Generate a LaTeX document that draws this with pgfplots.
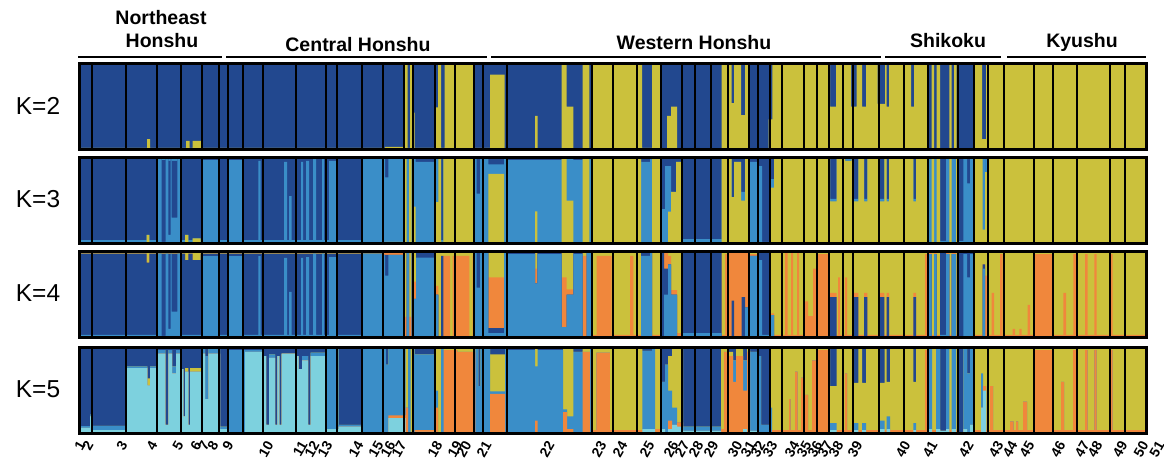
\documentclass[border=0pt]{standalone}
\usepackage{fontspec}
\setmainfont{Liberation Sans}
\usepackage{pgfplots}
\pgfplotsset{compat=1.18}
\usepackage{pgfplotstable}
\definecolor{cDB}{HTML}{22488F}
\definecolor{cLB}{HTML}{3A8EC8}
\definecolor{cY}{HTML}{CBC13C}
\definecolor{cO}{HTML}{F0873C}
\definecolor{cC}{HTML}{7DD1DE}

% K=2 : Y (bottom), B (top)
\pgfplotstableread{
x Y B
80 0.02 0.98
147 0.12 0.88
150 0.02 0.98
186 0.10 0.90
189.5 0.02 0.98
192.5 0.10 0.90
201 0.02 0.98
385 0.03 0.97
405 1 0
407.5 0.02 0.98
410 1 0
412.5 0.43 0.57
414.5 0.02 0.98
435.5 0.49 0.51
438 1 0
441 0.02 0.98
444.7 1 0
474 0.02 0.98
490 0.87 0.13
504.5 0 1
535 0.39 0.61
537.7 0 1
561.7 1 0
566.7 0.5 0.5
573.3 0 1
582.7 1 0
589.3 0 1
592.3 1 0
642 0.02 0.98
652 1 0
661.3 0 1
667 0.39 0.61
671 0.5 0.5
677 0 1
721.7 1 0
731.7 0.54 0.46
734 1 0
741 0.4 0.6
745 1 0
749.5 0 1
768.6 0.35 0.65
772.4 1 0
830 0.5 0.5
836 1 0
851 0.5 0.5
856.6 1 0
862 0.5 0.5
866 1 0
877.6 0.53 0.47
885 1 0
886.7 0.5 0.5
889 1 0
911 0.5 0.5
914 1 0
928.3 0 1
931.7 1 0
934 0 1
936.7 1 0
940 0 1
949.3 1 0
951.7 0 1
954 1 0
956.7 0 1
974.3 1 0
982 0.12 0.88
986 1 0
1146 1 0
}\ktwo

% K=3 : Y, L1, D, L2 (bottom to top)
\pgfplotstableread{
x Y L D T
80 0.01 0.03 0.96 0
146.7 0.1 0 0.9 0
149.3 0.01 0.03 0.96 0
156.7 0.01 0.99 0 0
161.7 0 0.02 0.95 0.03
165.7 0.01 0.99 0 0
168.3 0 0.1 0.86 0.04
170.7 0.01 0.99 0 0
171.7 0 0.3 0.66 0.04
177.3 0.01 0.99 0 0
180.7 0.01 0.03 0.96 0
185 0.1 0 0.9 0
188.3 0.01 0.03 0.96 0
192.7 0.06 0 0.94 0
200.7 0.01 0.03 0.96 0
201.7 0.01 0.96 0.03 0
219.3 0.01 0.03 0.96 0
228.3 0.01 0.96 0.03 0
243.3 0.01 0.03 0.96 0
258.3 0.01 0.95 0.04 0
260.7 0.01 0.03 0.96 0
284 0.01 0.94 0.05 0
287 0.01 0.03 0.96 0
289 0.01 0.54 0.45 0
291.5 0.01 0.03 0.96 0
301 0.01 0.94 0.05 0
303 0.01 0.03 0.96 0
306 0.01 0.95 0.04 0
309 0.01 0.03 0.96 0
313 0.01 0.99 0 0
316 0.01 0.03 0.96 0
322 0.01 0.99 0 0
324 0.01 0.03 0.96 0
329 0.01 0.95 0.04 0
337.3 0.01 0.03 0.96 0
361.7 0.01 0.99 0 0
385 0.02 0.75 0.23 0
388.3 0.02 0.98 0 0
404.3 1 0 0 0
406.7 0 1 0 0
409 1 0 0 0
411.7 0 1 0 0
413.3 0.43 0.57 0 0
415.7 0.01 0.94 0.05 0
435 0.48 0.52 0 0
438.3 1 0 0 0
441 0.02 0.02 0.96 0
443.3 1 0 0 0
474.3 0 1 0 0
476.7 0 0.58 0.42 0
480 0 1 0 0
488.3 0.81 0.11 0.08 0
504 0 1 0 0
507.3 0 0.97 0.03 0
535 0.375 0.595 0.03 0
537.3 0 0.97 0.03 0
561.7 1 0 0 0
566.7 0.5 0.5 0 0
573.3 0 0.97 0.03 0
582.7 1 0 0 0
589.3 0 1 0 0
592.3 1 0 0 0
641 0 0.95 0.05 0
650 0 1 0 0
652 1 0 0 0
661.3 0 0.4 0.6 0
665 0 0.9 0.1 0
668 0.37 0.53 0.1 0
671 0.6 0 0.4 0
676 0.95 0 0.05 0
682.3 0 0.05 0.95 0
721.7 1 0 0 0
731.7 0.54 0 0.46 0
734 0.95 0 0.05 0
741 0.5 0.1 0.4 0
745 1 0 0 0
749 0 0.95 0.05 0
758.3 0 0.9 0.1 0
762 0 0.02 0.98 0
770 0.65 0.1 0.25 0
774 1 0 0 0
830 0.49 0.03 0.48 0
836.7 1 0 0 0
845 0.96 0 0 0.04
851.7 1 0 0 0
852.7 0.49 0.03 0.48 0
858.3 1 0 0 0
864 0.49 0.03 0.48 0
867.3 1 0 0 0
879.3 0.49 0.03 0.48 0
884.3 1 0 0 0
886.7 0.49 0.03 0.48 0
889 1 0 0 0
913.3 0.49 0.03 0.48 0
916 1 0 0 0
928.3 0 1 0 0
931.7 1 0 0 0
934 0 1 0 0
936.7 1 0 0 0
940 0 0.03 0.97 0
946 0 1 0 0
949.3 1 0 0 0
951.7 0 1 0 0
956 1 0 0 0
958.3 0 0.03 0.97 0
963.3 0 1 0 0
967 0 0.7 0.3 0
970 0 1 0 0
974.3 1 0 0 0
982.7 0.16 0.84 0 0
985 0.83 0 0 0.17
988.3 0.98 0 0 0.02
1146 0.98 0 0 0.02
}\kthree

% K=4 : L, D, O, Y (bottom to top)
\pgfplotstableread{
x L D O Y
80 0.03 0.945 0 0.025
146.7 0.03 0.84 0 0.13
149.3 0.03 0.945 0 0.025
156.7 0.975 0 0 0.025
161.7 0.02 0.955 0 0.025
165.7 0.975 0 0 0.025
168.3 0.1 0.875 0 0.025
170.7 0.975 0 0 0.025
171.7 0.3 0.675 0 0.025
177.3 0.975 0 0 0.025
180.7 0.03 0.945 0 0.025
185 0.03 0.87 0 0.1
188.3 0.03 0.945 0 0.025
192.7 0.03 0.87 0 0.1
200.7 0.03 0.945 0 0.025
201.7 0.945 0.03 0 0.025
219.3 0.03 0.945 0 0.025
228.3 0.945 0.03 0 0.025
243.3 0.03 0.945 0 0.025
258.3 0.945 0.03 0 0.025
260.7 0.03 0.945 0 0.025
284 0.925 0.05 0 0.025
287 0.03 0.945 0 0.025
289 0.53 0.445 0 0.025
291.5 0.03 0.945 0 0.025
301 0.925 0.05 0 0.025
303 0.03 0.945 0 0.025
306 0.935 0.04 0 0.025
309 0.03 0.945 0 0.025
313 0.975 0 0 0.025
316 0.03 0.945 0 0.025
322 0.975 0 0 0.025
324 0.03 0.945 0 0.025
329 0.935 0.04 0 0.025
337.3 0.03 0.945 0 0.025
361.7 0.975 0 0 0.025
383.3 0.96 0 0.04 0
385 0.72 0.24 0.04 0
388.3 0.96 0 0.04 0
404.3 0 0 0.24 0.76
406.7 1 0 0 0
409 0 0 0.24 0.76
411.7 1 0 0 0
413.3 0.45 0 0.2 0.35
416 0.93 0.05 0 0.02
435 0.5 0 0.1 0.4
438.3 0 0 0.02 0.98
441 0 0.95 0 0.05
443.3 0 0 0.95 0.05
450 0 0 0.02 0.98
452.5 0 0 0.95 0.05
469.3 0 0 0.02 0.98
472.7 0 0 0.95 0.05
474.3 1 0 0 0
476.7 0.58 0.42 0 0
480 1 0 0 0
488.3 0.05 0.06 0.59 0.3
504 1 0 0 0
507.3 0.97 0.03 0 0
535 0.63 0 0.17 0.2
537.3 0.97 0.03 0 0
561.7 0.12 0 0.58 0.3
566.7 0.5 0 0.06 0.44
573.3 0.97 0.03 0 0
582.7 0 0 0.95 0.05
586.7 1 0 0 0
592.3 0 0 0.03 0.97
596.7 0 0 0.95 0.05
611.7 0 0 0.03 0.97
630 0 0 0.95 0.05
633.3 0 0 0.03 0.97
641 0.95 0.05 0 0
650 1 0 0 0
652 0 0 0.03 0.97
661.3 0 1 0 0
664 0.5 0.3 0.2 0
668 0.85 0 0.1 0.05
671 0.5 0 0.05 0.45
677 0 0 0.05 0.95
682.3 0.05 0.95 0 0
721.7 0 0 0.03 0.97
725 0 0 0.97 0.03
728.3 0 0 0.98 0.02
731.7 0 0.43 0.55 0.02
734 0 0 0.98 0.02
741.7 0 0.47 0.51 0.02
745 0.35 0 0.63 0.02
749 0.95 0 0.02 0.03
758.3 0.9 0.1 0 0
762 0.03 0.97 0 0
770 0.26 0 0.02 0.72
774 0 0 0.03 0.97
785 0 0 1 0
787.5 0 0 0.03 0.97
791 0 0 1 0
793 0 0 0.03 0.97
797 0 0 1 0
799 0 0 0.03 0.97
804.3 0 0 0.42 0.58
808 0 0 0.25 0.75
813 0 0 0.8 0.2
816.7 0 0 0.97 0.03
829 0 0 0.03 0.97
830 0 0.47 0.05 0.48
836.7 0 0 0.03 0.97
838 0 0 0.7 0.3
840 0 0 0.03 0.97
845 0 0 0.7 0.3
847 0 0 0.03 0.97
852.7 0 0.47 0.05 0.48
858.3 0 0 0.03 0.97
864 0 0.47 0.05 0.48
867.3 0 0 0.03 0.97
879.3 0 0.47 0.05 0.48
884.3 0 0 0.03 0.97
886.7 0 0.47 0.05 0.48
889 0 0 0.03 0.97
913.3 0 0.47 0.05 0.48
916 0 0 0.03 0.97
925 0 0 0.97 0.03
927.3 0 0 0.03 0.97
928.3 0.97 0 0.03 0
931.7 0 0 0.03 0.97
934 0.97 0 0.03 0
936.7 0 0 0.03 0.97
940 0.03 0.97 0 0
946 0.97 0 0.03 0
949.3 0 0 0.03 0.97
951.7 0.97 0 0.03 0
956 0 0 0.03 0.97
958.3 0 1 0 0
963.3 0.97 0.03 0 0
967 0.7 0.3 0 0
970 0.97 0.03 0 0
974.3 0 0 0.03 0.97
982.7 0.8 0.05 0 0.15
985 0 0 0.72 0.28
988.3 0 0 0.03 0.97
991.7 0 0 0.52 0.48
994 0 0 0.03 0.97
1000 0 0 0.97 0.03
1002.7 0 0 0.03 0.97
1012.7 0 0 0.1 0.9
1015 0 0 0.03 0.97
1019.3 0 0 0.1 0.9
1021.7 0 0 0.03 0.97
1027.7 0 0 0.38 0.62
1030 0 0 0.03 0.97
1034.3 0 0 0.97 0.03
1052.7 0 0 0.03 0.97
1063.3 0 0 0.52 0.48
1066 0 0 0.03 0.97
1073.3 0 0 0.97 0.03
1076 0 0 0.03 0.97
1085 0 0 0.97 0.03
1087.7 0 0 0.03 0.97
1094.3 0 0 0.97 0.03
1096.7 0 0 0.03 0.97
1110 0 0 0.97 0.03
1112.7 0 0 0.03 0.97
1146 0 0 0.03 0.97
}\kfour

% K=5 : C, O, L, Y, D (bottom to top)
\pgfplotstableread{
x C O L Y D
80 0.065 0 0.02 0 0.915
90 0.2 0 0.02 0 0.78
92.3 0.04 0 0.05 0 0.91
126.3 0.76 0 0.02 0 0.22
147.3 0.56 0 0 0.08 0.36
150 0.76 0 0.02 0 0.22
157 0.93 0 0.04 0 0.03
165.3 0.1 0 0 0 0.9
168.4 0.93 0 0.04 0 0.03
172 0.7 0 0.08 0 0.22
176 0.93 0 0.04 0 0.03
180.6 0.75 0 0 0 0.25
183.3 0.2 0 0 0 0.8
185 0.72 0 0 0.04 0.24
188.3 0.1 0 0 0 0.9
190 0.72 0 0 0.04 0.24
202 0.93 0 0.07 0 0
205 0.4 0 0.5 0 0.1
208.3 0.93 0 0.05 0 0.02
220 0.05 0 0.03 0 0.92
229 0 0 0.97 0 0.03
245 0.95 0 0.02 0 0.03
263.3 0.9 0 0 0 0.1
266 0.1 0 0 0 0.9
269 0.88 0 0.04 0 0.08
275 0.1 0 0 0 0.9
277.3 0.9 0 0 0 0.1
279.3 0.1 0 0 0 0.9
281.7 0.93 0 0 0 0.07
296.6 0.9 0 0 0 0.1
298.5 0.75 0 0 0 0.25
302 0.85 0 0.05 0 0.1
308 0.1 0 0 0 0.9
310.7 0.9 0 0.04 0 0.06
326 0.05 0 0.95 0 0
338.7 0.08 0 0.02 0 0.9
362.8 0 0 1 0 0
385.8 0 0 0.8 0 0.2
388.4 0.18 0.03 0.79 0 0
405.7 0 0.3 0 0.7 0
408 0 0 1 0 0
410.5 0 0.02 0 0.98 0
412.5 0 0 1 0 0
414.5 0.02 0.02 0.88 0 0.08
435.5 0 0.3 0.2 0.5 0
438 0 0 0 1 0
441 0 0 1 0 0
443.5 0 0.97 0 0.03 0
457.3 0 0.95 0 0.05 0
475.3 0 0 1 0 0
478.4 0 0 0.55 0 0.45
480.3 0 0 1 0 0
490 0 0.46 0.03 0.43 0.08
505 0 0 1 0 0
507.8 0 0 0.97 0 0.03
535 0 0.15 0.63 0.22 0
537.7 0 0 0.97 0 0.03
563 0 0.25 0.03 0.72 0
567 0 0.05 0.15 0.8 0
573.4 0 0 0.95 0 0.05
582.7 0 0.95 0 0.05 0
590 0 0 1 0 0
592.3 0 0.04 0 0.96 0
596.4 0 0.94 0 0.06 0
609.8 0 0.04 0 0.96 0
642.3 0.05 0 0.91 0 0.04
652 0.05 0 0.95 0 0
655 0 0.05 0 0.95 0
661.4 0.05 0 0.55 0 0.4
665 0 0 0.8 0 0.2
668 0.05 0.1 0.35 0.4 0.1
672 0.1 0 0.2 0.7 0
677 0.08 0.05 0 0.87 0
683.2 0.03 0 0.05 0 0.92
721 0 0.05 0 0.95 0
724 0 0.95 0 0.05 0
728.4 0 0.9 0 0.05 0.05
733 0 0.6 0.25 0 0.15
736 0 0.9 0 0.1 0
743 0.05 0.45 0.35 0 0.15
747 0 0.95 0 0.05 0
750.2 0.03 0 0.92 0 0.05
757.9 0 0 0.9 0 0.1
761 0 0 0.1 0 0.9
769.7 0 0 0.3 0.7 0
772 0 0.04 0 0.96 0
789 0 0.4 0 0.6 0
790.5 0 0.04 0 0.96 0
795 0 0.72 0 0.28 0
797.5 0 0.04 0 0.96 0
801 0 0.65 0 0.35 0
803.8 0 0.45 0 0.55 0
808 0 0.04 0 0.96 0
812 0 0.85 0 0.15 0
817 0 0.97 0 0.03 0
829 0 0.04 0 0.96 0
830 0.04 0 0.08 0.43 0.45
836.7 0 0.04 0 0.96 0
845 0 0.7 0 0.3 0
847 0 0.04 0 0.96 0
852.7 0.04 0 0.08 0.47 0.41
858.3 0 0.04 0 0.96 0
862 0.04 0 0.08 0.47 0.41
866 0 0.04 0 0.96 0
879.5 0.05 0 0.1 0.44 0.41
884.5 0 0.04 0 0.96 0
886.7 0.05 0 0.15 0.4 0.4
890 0 0.04 0 0.96 0
913.3 0.04 0 0.08 0.48 0.4
916 0 0.04 0 0.96 0
925 0 0.97 0 0.03 0
927.3 0 0.04 0 0.96 0
928.3 0.05 0 0.95 0 0
932 0 0.04 0 0.96 0
936 0.05 0 0.95 0 0
940 0.03 0 0 0 0.97
946 0.05 0 0.95 0 0
949.3 0 0.04 0 0.96 0
951.7 0.05 0 0.95 0 0
956 0 0.04 0 0.96 0
958.3 0 0 0 0 1
963.3 0.05 0 0.95 0 0
967 0 0 0.7 0 0.3
970 0.1 0 0.9 0 0
974.3 0 0.04 0 0.96 0
981 0.3 0 0.4 0.3 0
983 0.5 0.05 0 0.45 0
986 0 0.04 0 0.96 0
990 0 0.55 0 0.45 0
993 0 0.04 0 0.96 0
1010 0 0.14 0 0.86 0
1013.5 0 0.04 0 0.96 0
1016 0 0.14 0 0.86 0
1018 0 0.04 0 0.96 0
1023 0 0.37 0 0.63 0
1027 0 0.04 0 0.96 0
1034.3 0 0.97 0 0.03 0
1052.7 0 0.04 0 0.96 0
1061 0 0.6 0 0.4 0
1064 0 0.04 0 0.96 0
1073 0 0.97 0 0.03 0
1076 0 0.04 0 0.96 0
1085 0 0.97 0 0.03 0
1087.7 0 0.04 0 0.96 0
1094.3 0 0.97 0 0.03 0
1096.7 0 0.04 0 0.96 0
1110 0 0.97 0 0.03 0
1112.7 0 0.04 0 0.96 0
1146 0 0.04 0 0.96 0
}\kfive

\pgfplotsset{
  panel/.style={
    scale only axis, width=1067pt, height=86pt,
    xmin=79.5, xmax=1146.5, ymin=0, ymax=1,
    axis on top,
    axis line style={line width=3.5pt, black},
    xtick=\empty, ytick=\empty,
    extra x ticks={92,126,157,181,202,219,228,243,263,296,326,337,362,383,404,413,435,455,474,483,507,592,613,637,661,682,695,711,728,749,758,770,782,804,817,829,843,853,879,904,928,958,974,988,1004,1034,1053,1077,1110,1125},
    extra x tick labels={},
    extra x tick style={grid=major, major grid style={black, line width=1.1pt}, major tick length=0pt},
    anchor=north west,
  },
  area/.style={draw=none, fill=#1, const plot},
}
\newcommand{\pl}[1]{\fontsize{14}{16}\selectfont\textbf{#1}}

\begin{document}
\begin{tikzpicture}
\useasboundingbox (0,0) rectangle (1164pt,459pt);

% region headings
\begin{scope}[font=\bfseries\fontsize{19.5}{22}\selectfont]
\node[anchor=base, inner sep=0pt] at (161pt,434pt) {Northeast};
\node[anchor=base, inner sep=0pt] at (162pt,411pt) {Honshu};
\node[anchor=base, inner sep=0pt] at (358pt,407pt) {Central Honshu};
\node[anchor=base, inner sep=0pt] at (694pt,409pt) {Western Honshu};
\node[anchor=base, inner sep=0pt] at (948pt,411pt) {Shikoku};
\node[anchor=base, inner sep=0pt] at (1082pt,411pt) {Kyushu};
\end{scope}
\begin{scope}[line width=2pt]
\draw (78pt,402pt) -- (222pt,402pt);
\draw (226pt,402pt) -- (487pt,402pt);
\draw (491pt,402pt) -- (881pt,402pt);
\draw (885pt,402pt) -- (1001pt,402pt);
\draw (1007pt,402pt) -- (1146pt,402pt);
\end{scope}

% K labels
\begin{scope}[font=\fontsize{24.5}{26}\selectfont]
\node at (38pt,353.5pt) {K=2};
\node at (38pt,259.5pt) {K=3};
\node at (38pt,165.5pt) {K=4};
\node at (38pt,69.5pt) {K=5};
\end{scope}

% K=2
\begin{axis}[panel, at={(79.5pt,395.5pt)}]
\addplot[area=cDB] table[x=x, y expr=\thisrow{Y}+\thisrow{B}] {\ktwo} \closedcycle;
\addplot[area=cY] table[x=x, y=Y] {\ktwo} \closedcycle;
\end{axis}

% K=3
\begin{axis}[panel, at={(79.5pt,301.5pt)}]
\addplot[area=cLB] table[x=x, y expr=\thisrow{Y}+\thisrow{L}+\thisrow{D}+\thisrow{T}] {\kthree} \closedcycle;
\addplot[area=cDB] table[x=x, y expr=\thisrow{Y}+\thisrow{L}+\thisrow{D}] {\kthree} \closedcycle;
\addplot[area=cLB] table[x=x, y expr=\thisrow{Y}+\thisrow{L}] {\kthree} \closedcycle;
\addplot[area=cY] table[x=x, y=Y] {\kthree} \closedcycle;
\end{axis}

% K=4
\begin{axis}[panel, at={(79.5pt,207.5pt)}]
\addplot[area=cY] table[x=x, y expr=\thisrow{L}+\thisrow{D}+\thisrow{O}+\thisrow{Y}] {\kfour} \closedcycle;
\addplot[area=cO] table[x=x, y expr=\thisrow{L}+\thisrow{D}+\thisrow{O}] {\kfour} \closedcycle;
\addplot[area=cDB] table[x=x, y expr=\thisrow{L}+\thisrow{D}] {\kfour} \closedcycle;
\addplot[area=cLB] table[x=x, y=L] {\kfour} \closedcycle;
\end{axis}

% K=5
\begin{axis}[panel, at={(79.5pt,111.5pt)}]
\addplot[area=cDB] table[x=x, y expr=\thisrow{C}+\thisrow{O}+\thisrow{L}+\thisrow{Y}+\thisrow{D}] {\kfive} \closedcycle;
\addplot[area=cY] table[x=x, y expr=\thisrow{C}+\thisrow{O}+\thisrow{L}+\thisrow{Y}] {\kfive} \closedcycle;
\addplot[area=cLB] table[x=x, y expr=\thisrow{C}+\thisrow{O}+\thisrow{L}] {\kfive} \closedcycle;
\addplot[area=cO] table[x=x, y expr=\thisrow{C}+\thisrow{O}] {\kfive} \closedcycle;
\addplot[area=cC] table[x=x, y=C] {\kfive} \closedcycle;
\end{axis}

% population labels
\begin{axis}[scale only axis, width=1110pt, height=10pt, xmin=60, xmax=1170, ymin=0, ymax=1,
  at={(60pt,25.5pt)}, anchor=south west,
  axis line style={draw=none}, ytick=\empty, major tick length=0pt,
  xtick={82,90,124,154,180,198,206,215,230,270,304,316,329,360,380,392,403,439,459,468,488,551,603,624,651,675,686,700,715,739,752,762,774,796,808,819,829,840,859,907,934,970,1000,1014,1031,1062,1086,1099,1124,1145,1161},
  xticklabels={\pl{1},\pl{2},\pl{3},\pl{4},\pl{5},\pl{6},\pl{7},\pl{8},\pl{9},\pl{10},\pl{11},\pl{12},\pl{13},\pl{14},\pl{15},\pl{16},\pl{17},\pl{18},\pl{19},\pl{20},\pl{21},\pl{22},\pl{23},\pl{24},\pl{25},\pl{26},\pl{27},\pl{28},\pl{29},\pl{30},\pl{31},\pl{32},\pl{33},\pl{34},\pl{35},\pl{36},\pl{37},\pl{38},\pl{39},\pl{40},\pl{41},\pl{42},\pl{43},\pl{44},\pl{45},\pl{46},\pl{47},\pl{48},\pl{49},\pl{50},\pl{51}},
  xticklabel style={font=\bfseries\fontsize{14}{16}\selectfont, yshift=-9pt, rotate=60, anchor=east, inner sep=0pt},
]
\end{axis}
\end{tikzpicture}
\end{document}
